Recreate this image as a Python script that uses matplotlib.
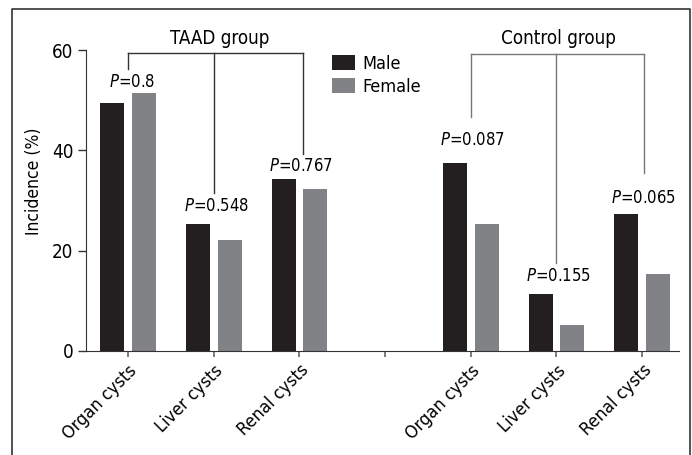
import matplotlib
matplotlib.use("Agg")
import matplotlib.pyplot as plt
from matplotlib.lines import Line2D
from matplotlib import font_manager as fm

# pick a condensed sans if available
FONT, STRETCH = 'Liberation Sans', 'normal'
for f in fm.fontManager.ttflist:
    if f.name == 'Liberation Sans Narrow':
        FONT, STRETCH = f.name, 'normal'
        break
else:
    for f in fm.fontManager.ttflist:
        if f.name == 'DejaVu Sans' and str(f.stretch).lower() in ('condensed', 'semi-condensed'):
            FONT, STRETCH = 'DejaVu Sans', 'condensed'
            break

plt.rcParams['font.family'] = [FONT, 'DejaVu Sans']
plt.rcParams['font.stretch'] = STRETCH
plt.rcParams['mathtext.fontset'] = 'custom'
plt.rcParams['mathtext.it'] = FONT + ':italic' + (':stretch=condensed' if STRETCH == 'condensed' else '')
plt.rcParams['mathtext.rm'] = FONT + (':stretch=condensed' if STRETCH == 'condensed' else '')

categories = ['Organ cysts', 'Liver cysts', 'Renal cysts', '',
              'Organ cysts', 'Liver cysts', 'Renal cysts']
male = [49.5, 25.3, 34.3, None, 37.5, 11.4, 27.3]
female = [51.5, 22.2, 32.3, None, 25.3, 5.2, 15.4]
p_labels = ['0.8', '0.548', '0.767', None, '0.087', '0.155', '0.065']
groups = ['TAAD group', 'Control group']

MALE_C = '#231f20'
FEMALE_C = '#808285'

fig = plt.figure(figsize=(6.92, 4.55), dpi=100)
W, H = 692, 455
ax = fig.add_axes([86 / W, (H - 351) / H, (679 - 86) / W, (351 - 50) / H])

x = list(range(len(categories)))
mx = [i for i in x if male[i] is not None]
ax.bar([i - 0.185 for i in mx], [male[i] for i in mx], width=0.28, color=MALE_C, label='Male')
ax.bar([i + 0.185 for i in mx], [female[i] for i in mx], width=0.28, color=FEMALE_C, label='Female')

ax.set_xlim(-0.49, 6.43)
ax.set_ylim(0, 60)
ax.set_yticks([0, 20, 40, 60])
ax.set_xticks(x)
ax.set_xticklabels(categories, rotation=45, ha='right', rotation_mode='anchor', fontsize=13)
for s in ['top', 'right']:
    ax.spines[s].set_visible(False)
ax.spines['left'].set_color('#333333')
ax.spines['bottom'].set_color('#333333')
ax.tick_params(axis='y', length=6, width=1, labelsize=13.5, color='#333333', pad=3)
ax.tick_params(axis='x', length=4.5, width=1.2, color='#666666', pad=3)
ax.set_ylabel('Incidence (%)', fontsize=12.5)
ax.yaxis.set_label_coords(-0.073, 0.565)

# brackets
def bracket(xs, ends, ytop, color):
    ax.add_line(Line2D([xs[0], xs[-1]], [ytop, ytop], color=color, lw=1, clip_on=False))
    for xi, ye in zip(xs, ends):
        ax.add_line(Line2D([xi, xi], [ytop, ye], color=color, lw=1, clip_on=False))

bracket([0, 1, 2.04], [56.2, 31.5, 39.3], 59.4, '#333333')
bracket([4, 5, 6.02], [46.6, 17.5, 35.5], 59.2, '#777777')

ax.text(1.07, 62.3, groups[0], ha='center', va='center', fontsize=13.5, clip_on=False)
ax.text(5.02, 62.3, groups[1], ha='center', va='center', fontsize=13.5, clip_on=False)

p_pos = {0: (0.05, 53.6), 1: (1.03, 28.9), 2: (2.02, 36.9),
         4: (4.02, 42.1), 5: (5.02, 15.0), 6: (6.01, 30.5)}
for i, lab in enumerate(p_labels):
    if lab is None:
        continue
    px, py = p_pos[i]
    ax.text(px, py, '$P$=' + lab, ha='center', va='center', fontsize=12)

ax.legend(frameon=False, loc='upper left', bbox_to_anchor=(0.415, 0.985),
          borderaxespad=0, borderpad=0, handlelength=1.28, handleheight=0.9,
          handletextpad=0.4, labelspacing=0.3, fontsize=13)

# outer frame
fig.add_artist(Line2D([12 / W, 12 / W, 690 / W, 690 / W],
                      [-0.01, 1 - 9 / H, 1 - 9 / H, -0.01],
                      transform=fig.transFigure, color='#333333', lw=1.2))

fig.savefig('out.png', dpi=100)
